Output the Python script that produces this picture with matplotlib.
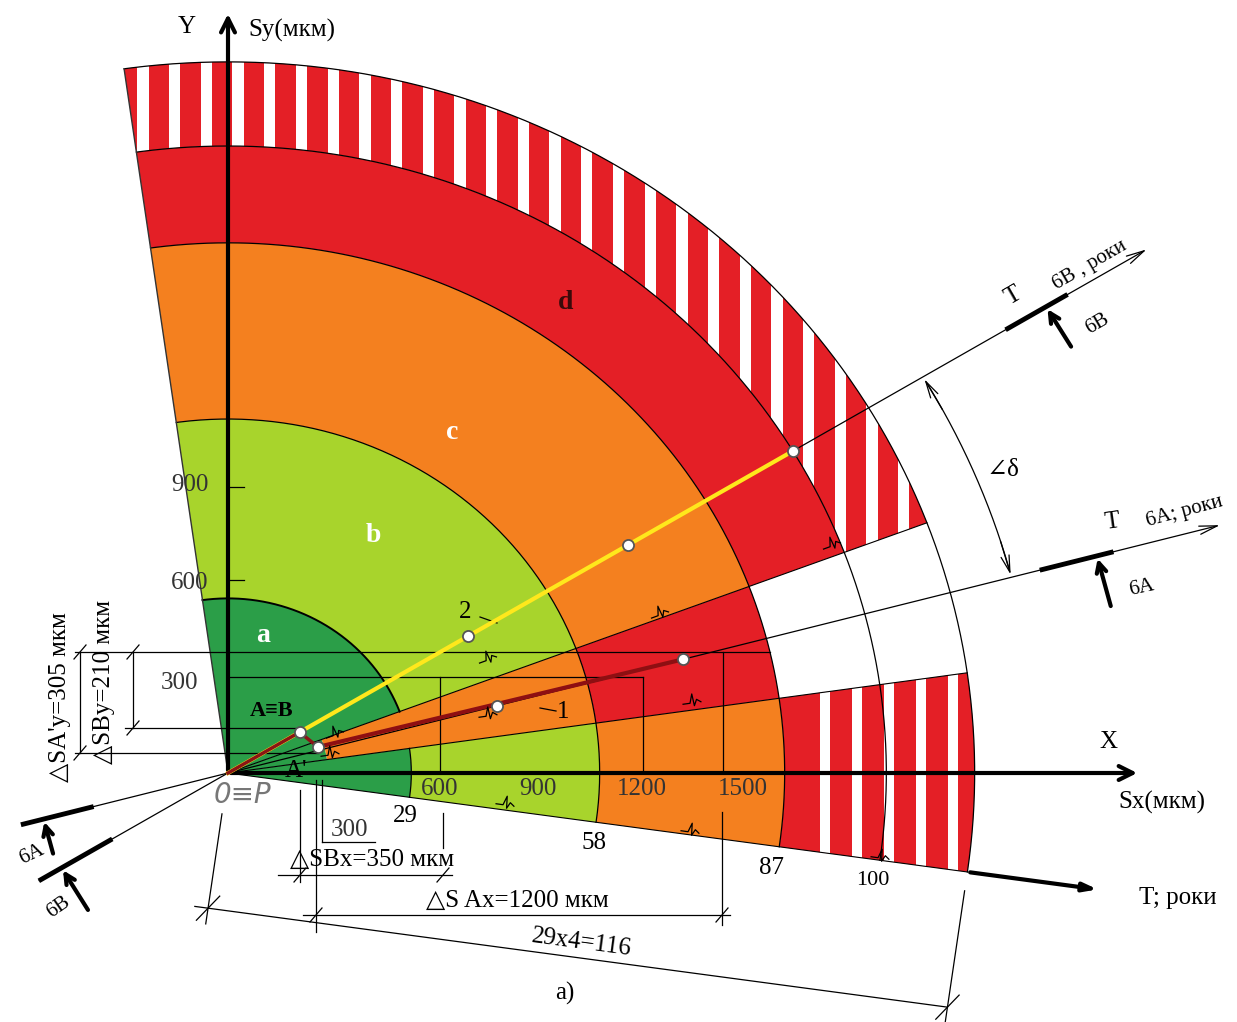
import numpy as np
import matplotlib.pyplot as plt
from matplotlib.patches import Polygon, Rectangle

plt.rcParams['font.family'] = ['Liberation Serif', 'DejaVu Serif']

# радіуси зон, мкм (T = 29, 58, 87, 100, 116 років)
zone_r = [550, 1115, 1670, 1975, 2240]
t_labels = ['29', '58', '87', '100']
# межі секторів, градуси
ang_t = -8.0
ang_12 = 8.1
ang_6a = 14.7
ang_23 = 20.6
ang_6b = 30.9
ang_left = 98.0
r_orange_mid = 300

# точки
line2_r = [840, 1400, 1975]      # на промені 6B (жовта лінія 2)
line1_r = [835, 1410]            # на промені 6A (лінія 1)
ab_r = 250                       # A=B
a_prime = (270, 82)              # A'
ray_6b_len = 3220
ray_6a_len = 3085
t_axis_len = 2643
delta_r = 2430

x_ticks = [600, 900, 1200, 1500]
y_ticks = [300, 600, 900]

c_a = '#2B9E48'
c_b = '#A8D42C'
c_c = '#F4801F'
c_d = '#E41F26'

SX, SY = 3.0, 3.15
OX, OY = 228, 773


def px(x, y):
    return ((x - OX) * SX, (OY - y) * SY)


def pol(r, a):
    a = np.radians(a)
    return r * np.cos(a), r * np.sin(a)


def ring(r0, r1, a0, a1, color, z=1):
    t = np.linspace(a0, a1, 150)
    xo, yo = pol(r1, t)
    if r0 == 0:
        xs, ys = np.r_[xo, 0], np.r_[yo, 0]
    else:
        xi, yi = pol(r0, t[::-1])
        xs, ys = np.r_[xo, xi], np.r_[yo, yi]
    p = Polygon(np.c_[xs, ys], closed=True, fc=color, ec='none', zorder=z)
    ax.add_patch(p)
    return p


def arc(r, a0, a1, **kw):
    t = np.linspace(a0, a1, 200)
    x, y = pol(r, t)
    ax.plot(x, y, **kw)


def seg(p1, p2, **kw):
    ax.plot([p1[0], p2[0]], [p1[1], p2[1]], **kw)


def pline(pts, **kw):
    d = [px(*p) for p in pts]
    ax.plot([q[0] for q in d], [q[1] for q in d], **kw)


def slash(x, y):
    pline([(x - 6, y + 7), (x + 6, y - 7)], color='k', lw=0.9)


def zig(x, y, ang=0):
    t = np.radians(ang)
    pts = [(-9, 0), (-2, 0), (1, -9), (2, 3), (5, -3), (9, 0)]
    pts = [(x + u * np.cos(t) + v * np.sin(t), y - u * np.sin(t) + v * np.cos(t)) for u, v in pts]
    pline(pts, color='k', lw=0.9, zorder=4)


fig = plt.figure(figsize=(12.37, 10.22), dpi=100)
ax = fig.add_axes([0, 0, 1, 1])
ax.set_xlim(-OX * SX, (1237 - OX) * SX)
ax.set_ylim(-(1022 - OY) * SY, OY * SY)
ax.axis('off')

ra, rb, rc, rd, re_ = zone_r

# нижній сектор
ring(0, ra, ang_t, ang_12, c_a)
ring(ra, rb, ang_t, ang_12, c_b)
ring(rb, rc, ang_t, ang_12, c_c)
low_hatch = ring(rc, re_, ang_t, ang_12, c_d)
# середній сектор
ring(0, r_orange_mid, ang_12, ang_23, c_a)
ring(r_orange_mid, rb, ang_12, ang_23, c_c)
ring(rb, rc, ang_12, ang_23, c_d)
# верхній сектор
ring(0, ra, ang_23, ang_left, c_a)
ring(ra, rb, ang_23, ang_left, c_b)
ring(rb, rc, ang_23, ang_left, c_c)
ring(rc, rd, ang_23, ang_left, c_d)
top_hatch = ring(rd, re_, ang_23, ang_left, c_d)

# білі смуги
for k in range(32):
    xc = -255 + 95.1 * k
    r = Rectangle((xc - 17, -900), 34, 4000, fc='white', ec='none', zorder=1.5)
    ax.add_patch(r)
    r.set_clip_path(top_hatch)
for k in range(7):
    xc = 1791 + 96 * k
    r = Rectangle((xc - 15, -900), 30, 4000, fc='white', ec='none', zorder=1.5)
    ax.add_patch(r)
    r.set_clip_path(low_hatch)

# дуги меж зон
kw = dict(color='k', lw=0.9, zorder=2)
arc(ra, ang_t, ang_12, **kw)
arc(ra, ang_23, ang_left, color='k', lw=1.4, zorder=2)
arc(rb, ang_t, ang_left, **kw)
arc(rc, ang_t, ang_left, **kw)
arc(rd, ang_t, ang_left, **kw)
arc(re_, ang_t, ang_left, **kw)

# радіальні межі
for a in [ang_t, ang_12, ang_23]:
    seg((0, 0), pol(re_, a), color='k', lw=0.8, zorder=2)
seg((0, 0), pol(re_, ang_left), color='#333', lw=1.0, zorder=2)

# промені T6A, T6B з ходом назад
ax.annotate('', xy=pol(ray_6b_len, ang_6b), xytext=(0, 0),
            arrowprops=dict(arrowstyle='->,head_length=1.3,head_width=0.3', lw=0.9, color='k'), zorder=3)
ax.annotate('', xy=pol(ray_6a_len, ang_6a), xytext=(0, 0),
            arrowprops=dict(arrowstyle='->,head_length=1.3,head_width=0.3', lw=0.9, color='k'), zorder=3)
seg((0, 0), pol(637, ang_6a + 180), color='k', lw=0.9, zorder=3)
seg((0, 0), pol(660, ang_6b + 180), color='k', lw=0.9, zorder=3)

# товсті відрізки та стрілки 6A/6B
for a, r0, r1 in [(ang_6b, 2726, 2928), (ang_6a, 2525, 2739),
                  (ang_6a + 180, 424, 635), (ang_6b + 180, 412, 654)]:
    seg(pol(r0, a), pol(r1, a), color='k', lw=3.5, zorder=3)
for a, rt, ln in [(ang_6b, 2860, 155), (ang_6a, 2695, 172),
                  (ang_6a + 180, 572, 121), (ang_6b + 180, -582, 163)]:
    tip = np.array(pol(rt, a if rt > 0 else ang_6b))
    if rt < 0:
        tip = -np.array(pol(-rt, ang_6b))
    base = ang_6b if a in (ang_6b, ang_6b + 180) else ang_6a
    n = np.array([np.sin(np.radians(base)), -np.cos(np.radians(base))])
    tail = tip + ln * n
    ax.annotate('', xy=tip, xytext=tail,
                arrowprops=dict(arrowstyle='->,head_length=0.7,head_width=0.35', lw=3, color='k'), zorder=3)

# кут дельта
arc(delta_r, ang_6a + 0.6, ang_6b - 0.6, color='k', lw=0.9, zorder=3)
for a_end, a_from in [(ang_6b, ang_6b - 3), (ang_6a, ang_6a + 3)]:
    ax.annotate('', xy=pol(delta_r, a_end), xytext=pol(delta_r, a_from),
                arrowprops=dict(arrowstyle='->,head_length=1.2,head_width=0.3', lw=0.9, color='k'), zorder=3)

# осі
ax.annotate('', xy=(2736, 0), xytext=(0, 0),
            arrowprops=dict(arrowstyle='->,head_length=1.0,head_width=0.5', lw=3, color='k'), zorder=4)
ax.annotate('', xy=(0, 2400), xytext=(0, 0),
            arrowprops=dict(arrowstyle='->,head_length=1.0,head_width=0.5', lw=3, color='k'), zorder=4)
ax.annotate('', xy=pol(t_axis_len, ang_t), xytext=pol(re_, ang_t),
            arrowprops=dict(arrowstyle='-|>,head_length=0.8,head_width=0.25', lw=3, color='k'), zorder=4)

# лінії 2 та 1
ax.plot(*pol(np.array([0, line2_r[-1]]), ang_6b), color='#FFE81C', lw=3, zorder=4)
ab = pol(ab_r, ang_6b)
ax.plot([0, ab[0], a_prime[0]], [0, ab[1], a_prime[1]], color='#8A1515', lw=2.5, zorder=4)
p1 = pol(line1_r[-1], ang_6a)
ax.plot([a_prime[0], p1[0]], [a_prime[1], p1[1]], color='#8E0F12', lw=3, zorder=4)

pts_x = [ab[0], a_prime[0]]
pts_y = [ab[1], a_prime[1]]
for r in line2_r:
    x, y = pol(r, ang_6b)
    pts_x.append(x); pts_y.append(y)
for r in line1_r:
    x, y = pol(r, ang_6a)
    pts_x.append(x); pts_y.append(y)
ax.plot(pts_x, pts_y, 'o', ms=8, mfc='white', mec='#555', mew=1.3, zorder=5)

# розмірні та допоміжні лінії
lk = dict(color='k', lw=0.9, zorder=3)
for a, b in [((75, 652), (770, 652)), ((228, 677), (643, 677)), ((125, 728), (300, 728)),
             ((75, 753), (318, 753)), ((80, 652), (80, 753)), ((133, 652), (133, 728)),
             ((440, 677), (440, 773)), ((643, 677), (643, 773)), ((723, 652), (723, 773)),
             ((300, 790), (300, 882)), ((316, 780), (316, 932)), ((322, 780), (322, 842)),
             ((322, 842), (375, 842)), ((443, 813), (443, 848)), ((278, 875), (452, 875)),
             ((303, 915), (730, 915)), ((722, 812), (722, 925)), ((228, 580), (244, 580)),
             ((228, 487), (244, 487)), ((480, 617), (497, 623)), ((540, 708), (556, 711))]:
    pline([a, b], **lk)
for x, y in [(80, 652), (80, 753), (133, 652), (133, 728), (300, 875), (443, 875),
             (316, 915), (722, 915)]:
    slash(x, y)

# розмір 29x4=116 паралельно осі T
tdir = np.array(pol(1, ang_t))
nrm = np.array([np.sin(np.radians(ang_t)), -np.cos(np.radians(ang_t))])
e1a, e1b = 130 * nrm, 480 * nrm
e2a, e2b = re_ * tdir + 60 * nrm, re_ * tdir + 480 * nrm
seg(e1a, e1b, **lk)
seg(e2a, e2b, **lk)
d1, d2 = 430 * nrm - 40 * tdir, re_ * tdir + 430 * nrm
seg(d1, d2, **lk)
for q in [430 * nrm, re_ * tdir + 430 * nrm]:
    seg(q + np.array([-35, -38]), q + np.array([35, 38]), **lk)

# розриви
for x, y, a in [(488, 660, 20), (488, 716, 8), (660, 615, 20), (692, 703, 8),
                (832, 546, 20), (505, 805, -8), (690, 832, -8), (880, 858, -8),
                (335, 735, 20), (330, 755, 8)]:
    zig(x, y, a)

# написи
def txt(s, x, y, size=18, **kw):
    ax.text(*px(x, y), s, fontsize=size, ha='center', va='center', zorder=6, **kw)


txt('Y', 187, 27)
txt('Sy(мкм)', 292, 30)
txt('X', 1108, 742)
txt('Sx(мкм)', 1162, 802)
txt('T; роки', 1178, 898)
for s, y in zip(y_ticks, [683, 583, 485]):
    txt(str(s), 180 if s == 300 else 190, y, color='#333')
for s, x in zip(x_ticks, [440, 538, 642, 743]):
    txt(str(s), x, 789, color='#333')
txt('300', 350, 830, color='#333')
for s, (x, y) in zip(t_labels, [(405, 816), (594, 843), (772, 868), (873, 880)]):
    txt(s, x, y, size=18 if s != '100' else 16)
txt('△SBx=350 мкм', 372, 860)
txt('△S Ax=1200 мкм', 517, 901)
txt('29x4=116', 582, 943, rotation=-7.6)
txt('a)', 565, 993)
txt('0≡P', 242, 795, size=20, color='#777', family='DejaVu Sans', style='italic')
txt('△SA\'y=305 мкм', 60, 697, rotation=90)
txt('△SBy=210 мкм', 104, 682, rotation=90)
txt('A≡B', 272, 711, size=16, weight='bold')
txt('A\'', 296, 771, size=18)
txt('a', 263, 636, size=20, color='white', weight='bold')
txt('b', 373, 535, size=20, color='white', weight='bold')
txt('c', 452, 432, size=20, color='white', weight='bold')
txt('d', 566, 302, size=20, color='#3a0a0a', weight='bold')
txt('1', 563, 712)
txt('2', 465, 612)
txt('∠δ', 1003, 470)
txt('T', 1013, 296, rotation=30)
txt('6B , роки', 1090, 265, size=15, rotation=30)
txt('T', 1112, 522, rotation=8)
txt('6A; роки', 1185, 512, size=15, rotation=15)
txt('6B', 1097, 324, size=15, rotation=30)
txt('6A', 1142, 588, size=15, rotation=12)
txt('6A', 32, 855, size=15, rotation=25)
txt('6B', 58, 907, size=15, rotation=35)

fig.savefig('out.png', dpi=100)
